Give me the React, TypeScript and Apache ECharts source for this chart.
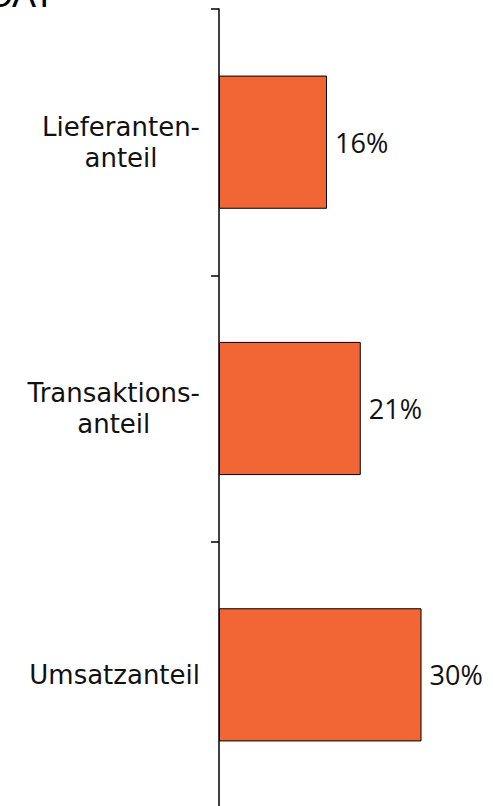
import React, { useEffect, useRef } from "react";
import * as echarts from "echarts";

const categories: string[] = ["Lieferanten-\nanteil", "Transaktions-\nanteil", "Umsatzanteil"];
const values: number[] = [16, 21, 30];
const titleText = "CAT";

export default function App() {
  const ref = useRef<HTMLDivElement>(null);
  useEffect(() => {
    if (!ref.current) return;
    const chart = echarts.init(ref.current, undefined, { renderer: "svg" });
    chart.setOption({
      animation: false,
      backgroundColor: "#ffffff",
      graphic: [
        {
          type: "text",
          left: -14,
          top: -24,
          style: {
            text: titleText,
            font: '36px "Liberation Sans", Arial, sans-serif',
            fill: "#000000",
          },
        },
      ],
      grid: { left: 219, top: 9, width: 270, height: 799, containLabel: false, outerBoundsMode: "none" },
      xAxis: {
        type: "value",
        min: 0,
        max: 40,
        show: false,
      },
      yAxis: {
        type: "category",
        inverse: true,
        data: categories,
        axisLine: { show: true, lineStyle: { color: "#000000", width: 1.5 } },
        axisTick: { show: true, length: 8, inside: false, alignWithLabel: false, lineStyle: { color: "#000000", width: 1.5 } },
        axisLabel: {
          margin: 19,
          formatter: (v: string) => v.split("\n").map((s) => `{c|${s}}`).join("\n"),
          rich: {
            c: {
              align: "center",
              fontSize: 26,
              lineHeight: 31,
              fontFamily: '"DejaVu Sans", sans-serif',
              color: "#111111",
            },
          },
        },
        splitLine: { show: false },
      },
      series: [
        {
          type: "bar",
          data: values,
          barWidth: "50%",
          itemStyle: { color: "#F26535", borderColor: "#000000", borderWidth: 1 },
          label: {
            show: true,
            position: "right",
            distance: 8,
            formatter: (p: any) => `${p.value}%`,
            fontSize: 27,
            fontFamily: '"Open Sans", sans-serif',
            color: "#111111",
          },
        },
      ],
    });
    return () => chart.dispose();
  }, []);
  return <div ref={ref} style={{ position: "absolute", left: 0, top: 0, width: 493, height: 806 }} />;
}
